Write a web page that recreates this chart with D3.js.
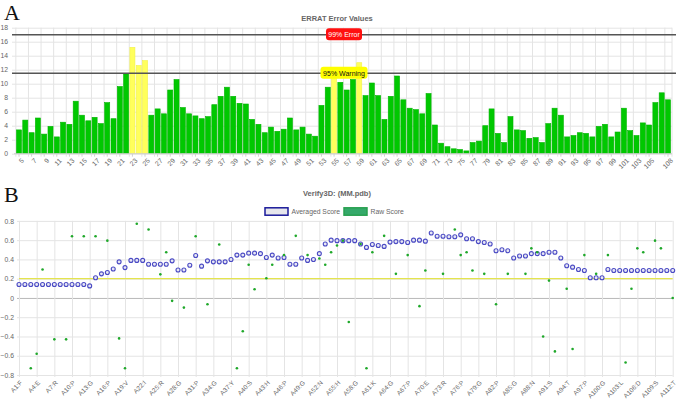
<!DOCTYPE html>
<html>
<head>
<meta charset="utf-8">
<script src="https://cdn.jsdelivr.net/npm/d3@7"></script>
<style>
body{margin:0;background:#fff}
svg{display:block}
text{font-family:"Liberation Sans",Arial,sans-serif}
</style>
</head>
<body>
<svg id="chart" width="676" height="401"></svg>
<script>
// ERRAT values, residues 5..108
var erratResidues = d3.range(5, 109)
var erratValues = [3.4,4.8,3.0,5.1,2.8,3.9,2.4,4.5,4.2,7.5,5.5,4.7,5.2,4.3,7.3,5.0,9.6,11.4,15.2,12.6,
  13.3,5.5,6.4,5.7,9.1,10.6,6.6,5.7,5.4,5.0,5.3,7.0,8.2,9.5,8.2,7.2,7.1,4.9,4.2,3.0,
  3.8,3.2,3.5,5.1,3.4,3.8,2.8,2.5,6.9,9.5,11.8,10.2,9.1,10.6,13.0,8.3,10.1,8.3,4.9,8.2,
  11.1,7.7,6.5,6.3,5.7,8.6,4.1,1.5,1.0,0.7,0.6,0.4,1.6,1.8,4.0,6.4,2.9,1.6,5.3,3.4,
  3.3,2.2,2.3,1.6,4.3,6.5,5.5,2.4,2.6,3.0,2.9,2.4,3.9,4.2,2.4,3.1,6.5,3.3,2.6,4.4,
  4.1,7.3,8.7,7.7]
var erratTicks = d3.range(5, 106, 2).concat([108])
var erratYTicks = [0,2,4,6,8,10,12,14,16,18]
var errorLine = 17.0
var warningLine = 11.5

// Verify3D, residues 1..112
var v3dTickResidues = d3.range(1, 113, 3)
var v3dTickLetters = ["F","E","R","P","G","P","V","I","R","G","P","G","Y","S","H","P","G","N","H",
  "G","K","G","P","E","R","P","G","P","G","N","S","T","P","G","L","D","S","T"]
var avgScore = [0.14,0.14,0.14,0.14,0.14,0.14,0.14,0.14,0.14,0.14,0.14,0.14,0.125,0.21,0.25,0.265,0.30,0.375,0.315,0.39,
  0.39,0.39,0.35,0.35,0.35,0.35,0.385,0.29,0.29,0.34,0.44,0.33,0.385,0.375,0.375,0.375,0.40,0.445,0.445,0.465,
  0.465,0.46,0.42,0.445,0.415,0.42,0.35,0.35,0.415,0.39,0.40,0.46,0.56,0.60,0.595,0.595,0.595,0.595,0.56,0.525,
  0.555,0.545,0.535,0.58,0.585,0.585,0.575,0.60,0.60,0.59,0.675,0.64,0.64,0.635,0.635,0.655,0.615,0.615,0.585,0.575,
  0.56,0.49,0.50,0.49,0.415,0.435,0.435,0.46,0.46,0.46,0.475,0.475,0.415,0.335,0.32,0.295,0.285,0.21,0.21,0.21,
  0.295,0.285,0.285,0.285,0.285,0.285,0.285,0.285,0.285,0.285,0.285,0.285]
var rawResidues = [3,4,5,7,9,10,12,14,16,18,19,21,23,25,26,27,29,31,33,35,38,39,40,41,43,44,46,48,50,52,53,54,55,56,57,59,60,61,
  63,65,67,69,70,73,75,76,77,78,80,82,84,87,88,89,90,91,92,94,95,97,99,101,104,105,106,107,109,110,112]
var rawScore = [-0.73,-0.58,0.295,-0.43,-0.43,0.64,0.64,0.64,0.595,-0.42,-0.73,0.77,0.71,0.245,0.475,-0.03,-0.10,0.64,-0.065,0.555,
  -0.73,-0.345,0.345,0.09,0.205,0.345,0.445,0.645,0.445,0.41,0.345,0.475,0.545,0.595,-0.25,0.56,-0.73,0.475,
  0.645,0.25,0.445,-0.085,0.285,0.25,0.71,0.445,0.475,0.285,0.25,-0.065,0.25,0.25,0.515,0.475,-0.40,0.18,-0.555,0.095,-0.53,
  0.445,0.25,0.445,-0.67,0.095,0.515,0.475,0.595,0.515,0.0]
var v3dYTicks = [-0.8,-0.6,-0.4,-0.2,0,0.2,0.4,0.6,0.8]
var passLine = 0.2

var svg = d3.select("#chart")
var grey = "#666"

// ---------- panel A ----------
var gA = svg.append("g")
svg.append("text").attr("x", 4).attr("y", 20).text("A")
  .style("font-family", "'Liberation Serif','DejaVu Serif',serif").style("font-size", "22px").attr("fill", "#111")

var xA = d3.scaleBand().domain(erratResidues).range([15.85, 671.15]).paddingInner(0.2).paddingOuter(0.1)
var yA = d3.scaleLinear().domain([0, 18]).range([153.7, 27.7])
var leftA = 14, rightA = 672

gA.append("text").attr("x", 337).attr("y", 21).attr("text-anchor", "middle")
  .attr("fill", grey).style("font-size", "7.5px").style("font-weight", "bold").text("ERRAT Error Values")

// horizontal grid + y labels
var yAxisA = d3.axisLeft(yA).tickValues(erratYTicks).tickSize(-(rightA - leftA + 2)).tickPadding(4)
gA.append("g").attr("transform", "translate(" + (leftA - 2) + ",0)").call(yAxisA)
  .call(function (g) {
    g.select(".domain").remove()
    g.selectAll(".tick line").attr("stroke", "#e4e4e4")
    g.selectAll(".tick text").attr("fill", grey).style("font-size", "6.8px")
  })

// vertical grid at shown ticks (between categories)
var stepA = xA.step()
gA.append("g").selectAll("line").data(erratTicks.concat(["end"])).join("line")
  .attr("x1", function (d) { return d === "end" ? rightA : xA(d) + xA.bandwidth() / 2 - stepA / 2 })
  .attr("x2", function (d) { return d === "end" ? rightA : xA(d) + xA.bandwidth() / 2 - stepA / 2 })
  .attr("y1", yA(18)).attr("y2", yA(0) + 3)
  .attr("stroke", "#e4e4e4")

// bars
gA.append("g").selectAll("rect").data(erratValues).join("rect")
  .attr("x", function (d, i) { return xA(erratResidues[i]) })
  .attr("width", xA.bandwidth())
  .attr("y", function (d) { return yA(d) })
  .attr("height", function (d) { return yA(0) - yA(d) })
  .attr("fill", function (d) { return d > warningLine ? "#ffff5c" : "#00c800" })
  .attr("stroke", function (d) { return d > warningLine ? "#f2f24a" : "#00b400" })
  .attr("stroke-width", 0.6)

// x axis
var xAxisA = d3.axisBottom(xA).tickValues(erratTicks).tickSize(3).tickPadding(2)
gA.append("g").attr("transform", "translate(0," + yA(0) + ")").call(xAxisA)
  .call(function (g) {
    g.select(".domain").attr("stroke", "#d0d0d0").attr("d", "M" + leftA + ",0H" + rightA)
    g.selectAll(".tick line").attr("stroke", "#d0d0d0")
    g.selectAll(".tick text").attr("fill", grey).style("font-size", "6.8px")
      .attr("text-anchor", "end").attr("dy", "0.3em").attr("dx", "0.1em")
      .attr("transform", "translate(0,3) rotate(-45)")
  })

// thresholds
var lines = [{ v: errorLine, label: "99% Error", fill: "#ff1010", color: "#fff", w: 36 },
             { v: warningLine, label: "95% Warning", fill: "#ffff00", color: "#111", w: 47 }]
lines.forEach(function (l) {
  gA.append("line").attr("x1", leftA - 2).attr("x2", rightA + 4).attr("y1", yA(l.v)).attr("y2", yA(l.v))
    .attr("stroke", "#555").attr("stroke-width", 1.6)
  var cx = 344
  gA.append("rect").attr("x", cx - l.w / 2).attr("y", yA(l.v) - 6.5).attr("width", l.w).attr("height", 12)
    .attr("rx", 3).attr("fill", l.fill)
  gA.append("text").attr("x", cx).attr("y", yA(l.v) + 2.4).attr("text-anchor", "middle")
    .attr("fill", l.color).style("font-size", "7px").text(l.label)
})

// ---------- panel B ----------
var gB = svg.append("g")
svg.append("text").attr("x", 4).attr("y", 202).text("B")
  .style("font-family", "'Liberation Serif','DejaVu Serif',serif").style("font-size", "22px").attr("fill", "#111")

var xB = d3.scaleLinear().domain([1, 112]).range([19, 672.7])
var yB = d3.scaleLinear().domain([-0.8, 0.8]).range([375, 220.9])

gB.append("text").attr("x", 337).attr("y", 196).attr("text-anchor", "middle")
  .attr("fill", grey).style("font-size", "7.5px").style("font-weight", "bold").text("Verify3D:  (MM.pdb)")

// legend
var legend = [{ label: "Averaged Score", fill: "#e6e6ec", stroke: "#1a1a9a", x: 265 },
              { label: "Raw Score", fill: "#35a96a", stroke: "#28a050", x: 344 }]
legend.forEach(function (l) {
  gB.append("rect").attr("x", l.x).attr("y", 207.8).attr("width", 23).attr("height", 7.4)
    .attr("fill", l.fill).attr("stroke", l.stroke).attr("stroke-width", 1.5)
  gB.append("text").attr("x", l.x + 26.5).attr("y", 214.2).attr("fill", grey)
    .style("font-size", "6.8px").text(l.label)
})

// grid
var yAxisB = d3.axisLeft(yB).tickValues(v3dYTicks).tickSize(-(672.7 - 17)).tickPadding(3)
  .tickFormat(function (d) { return d === 0 ? "0" : d3.format(".1f")(d) })
gB.append("g").attr("transform", "translate(17,0)").call(yAxisB)
  .call(function (g) {
    g.select(".domain").remove()
    g.selectAll(".tick line").attr("stroke", function (d) { return d === 0 ? "#b8b8b8" : "#e4e4e4" })
    g.selectAll(".tick text").attr("fill", grey).style("font-size", "6.8px")
  })

var xAxisB = d3.axisBottom(xB).tickValues(v3dTickResidues).tickPadding(2)
  .tickFormat(function (d, i) { return "A" + d + ":" + v3dTickLetters[i] })
gB.append("g").attr("transform", "translate(0,377)").call(xAxisB)
  .call(function (g) {
    g.select(".domain").remove()
    g.selectAll(".tick line").attr("stroke", "#e4e4e4").attr("y1", 0).attr("y2", -(377 - 220.9))
    g.selectAll(".tick text").attr("fill", grey).style("font-size", "6.4px")
      .attr("text-anchor", "end").attr("dy", "0.15em").attr("dx", "0")
      .attr("transform", "translate(-3,0) rotate(-45)")
  })

// pass line
gB.append("line").attr("x1", xB(1)).attr("x2", xB(112)).attr("y1", yB(passLine)).attr("y2", yB(passLine))
  .attr("stroke", "#e4e44e").attr("stroke-width", 1.2)

// averaged score
gB.append("g").selectAll("circle").data(avgScore).join("circle")
  .attr("cx", function (d, i) { return xB(i + 1) })
  .attr("cy", function (d) { return yB(d) })
  .attr("r", 2)
  .attr("fill", "#e8e8f4").attr("stroke", "#4a4ac4").attr("stroke-width", 1.1)

// raw score
gB.append("g").selectAll("circle").data(rawScore).join("circle")
  .attr("cx", function (d, i) { return xB(rawResidues[i]) })
  .attr("cy", function (d) { return yB(d) })
  .attr("r", 1.3)
  .attr("fill", "#1fa82a")
</script>
</body>
</html>
